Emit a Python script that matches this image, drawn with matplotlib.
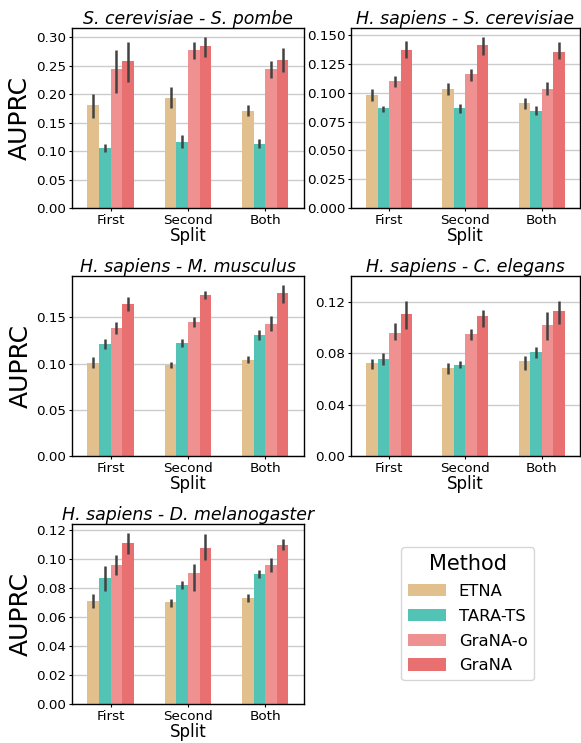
import matplotlib
matplotlib.use("Agg")
import matplotlib.pyplot as plt
from matplotlib.ticker import MultipleLocator, FormatStrFormatter
import numpy as np

splits = ["First", "Second", "Both"]
methods = ["ETNA", "TARA-TS", "GraNA-o", "GraNA"]
colors = ["#E2C08D", "#52C3B4", "#EF9190", "#E97070"]

titles = ["S. cerevisiae - S. pombe", "H. sapiens - S. cerevisiae",
          "H. sapiens - M. musculus", "H. sapiens - C. elegans",
          "H. sapiens - D. melanogaster"]

# y tick spacing and label format per panel
tick_steps = [0.05, 0.025, 0.05, 0.04, 0.02]
tick_fmts = ["%.2f", "%.3f", "%.2f", "%.2f", "%.2f"]

# mean AUPRC per method (rows) and split (cols), one array per panel
sc_sp_mean = [[0.1815, 0.194, 0.171], [0.106, 0.1168, 0.1127],
              [0.2446, 0.278, 0.244], [0.2586, 0.285, 0.260]]
sc_sp_lo = [[0.158, 0.175, 0.161], [0.098, 0.105, 0.105],
            [0.202, 0.2615, 0.228], [0.222, 0.266, 0.238]]
sc_sp_hi = [[0.200, 0.213, 0.181], [0.113, 0.128, 0.121],
            [0.278, 0.292, 0.258], [0.291, 0.3006, 0.281]]

hs_sc_mean = [[0.0984, 0.1035, 0.0914], [0.0865, 0.0871, 0.0845],
              [0.1105, 0.1165, 0.1035], [0.1373, 0.141, 0.1356]]
hs_sc_lo = [[0.0926, 0.0978, 0.086], [0.0837, 0.0828, 0.081],
            [0.1047, 0.1099, 0.0978], [0.1301, 0.1327, 0.1295]]
hs_sc_hi = [[0.1033, 0.1082, 0.0955], [0.0886, 0.090, 0.0886],
            [0.1148, 0.1209, 0.1096], [0.1451, 0.1485, 0.144]]

hs_mm_mean = [[0.1005, 0.0987, 0.104], [0.1213, 0.1224, 0.131],
              [0.1385, 0.145, 0.1424], [0.1643, 0.174, 0.1762]]
hs_mm_lo = [[0.0951, 0.0951, 0.1005], [0.1152, 0.1177, 0.1252],
            [0.1317, 0.1396, 0.1353], [0.1568, 0.1694, 0.1654]]
hs_mm_hi = [[0.1066, 0.1019, 0.108], [0.1267, 0.127, 0.1363],
            [0.145, 0.1503, 0.1514], [0.1719, 0.178, 0.1848]]

hs_ce_mean = [[0.0722, 0.0683, 0.0738], [0.0753, 0.0714, 0.0808],
              [0.0956, 0.0948, 0.1018], [0.1104, 0.1088, 0.1127]]
hs_ce_lo = [[0.068, 0.0642, 0.0675], [0.0712, 0.0686, 0.0761],
            [0.0901, 0.0906, 0.0901], [0.0987, 0.1005, 0.1031]]
hs_ce_hi = [[0.0758, 0.0725, 0.0784], [0.0805, 0.0738, 0.0852],
            [0.1039, 0.0992, 0.1122], [0.1208, 0.114, 0.1208]]

hs_dm_mean = [[0.0712, 0.0701, 0.0735], [0.0872, 0.0824, 0.090],
              [0.0962, 0.0907, 0.0962], [0.1113, 0.1079, 0.1099]]
hs_dm_lo = [[0.0664, 0.0671, 0.0703], [0.0783, 0.0792, 0.0868],
            [0.0893, 0.0779, 0.0914], [0.1033, 0.0996, 0.1065]]
hs_dm_hi = [[0.076, 0.0728, 0.0756], [0.0953, 0.0847, 0.0927],
            [0.103, 0.0969, 0.101], [0.1182, 0.117, 0.1138]]

panels = [(sc_sp_mean, sc_sp_lo, sc_sp_hi), (hs_sc_mean, hs_sc_lo, hs_sc_hi),
          (hs_mm_mean, hs_mm_lo, hs_mm_hi), (hs_ce_mean, hs_ce_lo, hs_ce_hi),
          (hs_dm_mean, hs_dm_lo, hs_dm_hi)]

plt.rcParams['font.family'] = 'DejaVu Sans'
fig = plt.figure(figsize=(5.81, 7.43), dpi=100)

lefts = [0.124, 0.604]
widths = [0.399, 0.394]
bottoms = [0.720, 0.386, 0.0525]
h = 0.242

bw = 0.15
x = np.arange(len(splits))
for i, (mean, lo, hi) in enumerate(panels):
    r, c = divmod(i, 2)
    ax = fig.add_axes([lefts[c], bottoms[r], widths[c], h])
    ax.set_axisbelow(True)
    ax.yaxis.grid(True, color='#cccccc', lw=1)
    for k in range(len(methods)):
        m = np.array(mean[k])
        err = [m - np.array(lo[k]), np.array(hi[k]) - m]
        pos = x + (k - 1.5) * bw
        ax.bar(pos, m, width=bw, color=colors[k], label=methods[k])
        ax.errorbar(pos, m, yerr=err, fmt='none', ecolor='#424242', elinewidth=1.8, capsize=0)
    ax.set_xlim(-0.5, 2.5)
    if i == 3:
        ax.set_ylim(0, 0.14)
    ax.yaxis.set_major_locator(MultipleLocator(tick_steps[i]))
    ax.yaxis.set_major_formatter(FormatStrFormatter(tick_fmts[i]))
    ax.set_xticks(x)
    ax.set_xticklabels(splits)
    ax.tick_params(labelsize=9.7, length=2, width=0.8, pad=2)
    ax.set_title(titles[i], fontsize=12.5, style='italic', pad=3)
    ax.set_xlabel("Split", fontsize=12, labelpad=0)
    if c == 0:
        ax.set_ylabel("AUPRC", fontsize=18, labelpad=3)
    for s in ax.spines.values():
        s.set_color('black')
        s.set_linewidth(1)

handles, labels = ax.get_legend_handles_labels()
leg = fig.legend(handles, labels, title="Method", loc='center', bbox_to_anchor=(0.805, 0.174),
                 fontsize=11.8, title_fontsize=15, handlelength=2.3, handleheight=0.8,
                 labelspacing=0.6)

fig.savefig("out.png", dpi=100)
